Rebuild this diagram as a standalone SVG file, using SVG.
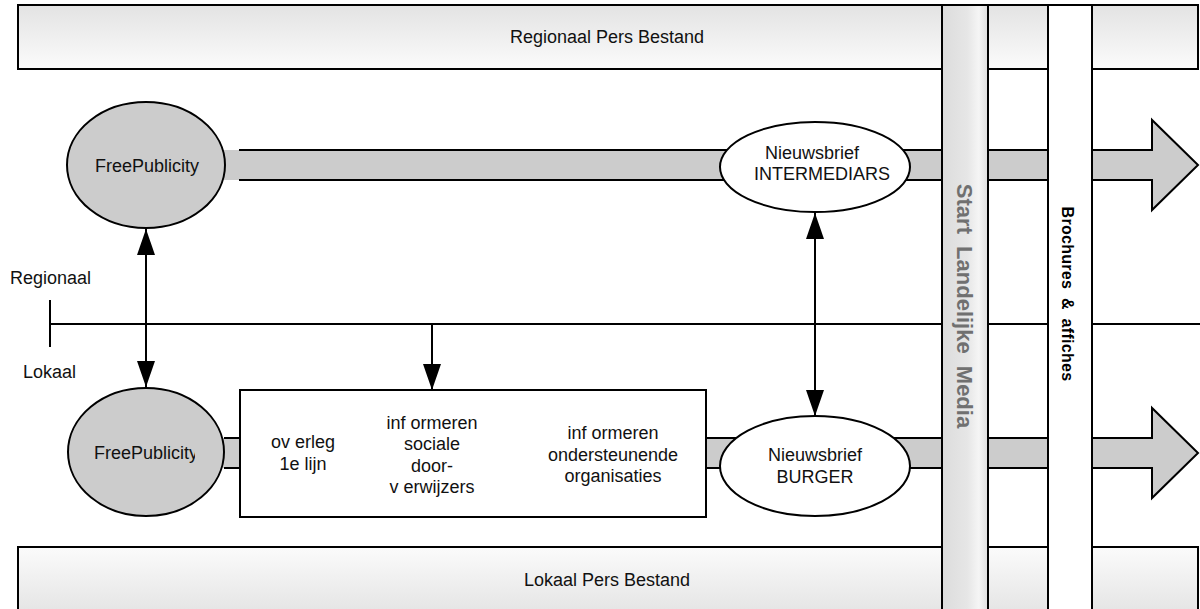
<svg xmlns="http://www.w3.org/2000/svg" width="1200" height="609" viewBox="0 0 1200 609">
  <style>
    .lbl { font-family: "Liberation Sans", Arial, sans-serif; font-size: 18px; fill: #111; }
    .mid { text-anchor: middle; }
    .edge { stroke: #000; stroke-width: 2; }
    .band { fill: #cccccc; }
    .blob { fill: #cccccc; stroke: #000; stroke-width: 2; }
    .oval { fill: #fff; stroke: #000; stroke-width: 2; }
    .wire { stroke: #000; stroke-width: 2; fill: none; }
  </style>
  <defs>
    <linearGradient id="gTop" x1="0" y1="0" x2="0" y2="1">
      <stop offset="0" stop-color="#e3e3e3"/>
      <stop offset="1" stop-color="#fbfbfb"/>
    </linearGradient>
    <linearGradient id="gBot" x1="0" y1="0" x2="0" y2="1">
      <stop offset="0" stop-color="#fbfbfb"/>
      <stop offset="1" stop-color="#e3e3e3"/>
    </linearGradient>
    <linearGradient id="gCol" x1="0" y1="0" x2="1" y2="0">
      <stop offset="0" stop-color="#dcdcdc"/>
      <stop offset="0.55" stop-color="#e6e6e6"/>
      <stop offset="0.8" stop-color="#f5f5f5"/>
      <stop offset="1" stop-color="#dedede"/>
    </linearGradient>
    <marker id="head" viewBox="0 0 26 18" refX="26" refY="9" markerWidth="26" markerHeight="18" markerUnits="userSpaceOnUse" orient="auto-start-reverse">
      <path d="M0,0 L26,9 L0,18 Z" fill="#000"/>
    </marker>
    <clipPath id="clipFp">
      <rect x="60" y="380" width="135" height="140"/>
    </clipPath>
  </defs>

  <!-- press files: regional (top) and local (bottom) -->
  <g id="regionaal-pers">
    <rect x="18" y="5" width="1180" height="64" fill="url(#gTop)" class="edge"/>
    <text class="lbl mid" x="607" y="43">Regionaal Pers Bestand</text>
  </g>
  <g id="lokaal-pers">
    <rect x="18" y="547" width="1180" height="70" fill="url(#gBot)" class="edge"/>
    <text class="lbl mid" x="607" y="586">Lokaal Pers Bestand</text>
  </g>

  <!-- flow bands with arrowheads -->
  <g id="bands">
    <rect x="200" y="150" width="42" height="30" class="band"/>
    <path d="M239,150 L1152,150 L1152,120 L1198,165 L1152,210 L1152,180 L239,180 Z" class="band"/>
    <path d="M239,150 L1152,150 L1152,120 L1198,165 L1152,210 L1152,180 L239,180" class="wire"/>
    <rect x="200" y="438" width="26" height="30" class="band"/>
    <path d="M224,438 L1152,438 L1152,408 L1198,453 L1152,498 L1152,468 L224,468 Z" class="band"/>
    <path d="M224,438 L1152,438 L1152,408 L1198,453 L1152,498 L1152,468 L224,468" class="wire"/>
  </g>

  <!-- regional / local divider and connectors -->
  <g id="connectors">
    <line x1="50" y1="324" x2="1200" y2="324" class="wire"/>
    <line x1="50" y1="300" x2="50" y2="347" class="wire"/>
    <line x1="146" y1="229" x2="146" y2="387" class="wire" marker-start="url(#head)" marker-end="url(#head)"/>
    <line x1="815" y1="213" x2="815" y2="416" class="wire" marker-start="url(#head)" marker-end="url(#head)"/>
    <line x1="432" y1="324" x2="432" y2="390" class="wire" marker-end="url(#head)"/>
  </g>

  <g id="label-regionaal">
    <text class="lbl" x="10" y="284">Regionaal</text>
  </g>
  <g id="label-lokaal">
    <text class="lbl" x="23" y="378">Lokaal</text>
  </g>

  <g id="freepublicity-top">
    <ellipse cx="146" cy="165" rx="79" ry="63" class="blob"/>
    <text class="lbl mid" x="147" y="172">FreePublicity</text>
  </g>
  <g id="freepublicity-bottom">
    <ellipse cx="146" cy="452" rx="78" ry="64" class="blob"/>
    <text class="lbl" x="94" y="459" clip-path="url(#clipFp)">FreePublicity</text>
  </g>

  <g id="nieuwsbrief-intermediars">
    <ellipse cx="815" cy="167" rx="95" ry="45" class="oval"/>
    <text class="lbl mid" x="812" y="159">Nieuwsbrief</text>
    <text class="lbl mid" x="822" y="180">INTERMEDIARS</text>
  </g>
  <g id="nieuwsbrief-burger">
    <ellipse cx="815" cy="466" rx="95" ry="50" class="oval"/>
    <text class="lbl mid" x="815" y="461">Nieuwsbrief</text>
    <text class="lbl mid" x="815" y="483">BURGER</text>
  </g>

  <g id="activiteiten">
    <rect x="240" y="390" width="466" height="127" fill="#fff" class="edge"/>
    <text class="lbl mid" x="303" y="448">ov erleg</text>
    <text class="lbl mid" x="303" y="470">1e lijn</text>
    <text class="lbl mid" x="432" y="429">inf ormeren</text>
    <text class="lbl mid" x="432" y="450">sociale</text>
    <text class="lbl mid" x="432" y="472">door-</text>
    <text class="lbl mid" x="432" y="493">v erwijzers</text>
    <text class="lbl mid" x="613" y="439">inf ormeren</text>
    <text class="lbl mid" x="613" y="461">ondersteunende</text>
    <text class="lbl mid" x="613" y="482">organisaties</text>
  </g>

  <!-- vertical media columns -->
  <g id="landelijke-media">
    <rect x="942" y="5" width="46" height="620" fill="url(#gCol)" class="edge"/>
    <text transform="translate(957,306) rotate(90)" text-anchor="middle" font-family="Liberation Sans, Arial, sans-serif" font-size="22" font-weight="bold" fill="#707070" word-spacing="6">Start Landelijke Media</text>
  </g>
  <g id="brochures">
    <rect x="1048" y="5" width="44" height="620" fill="#fff" class="edge"/>
    <text transform="translate(1062,294) rotate(90)" text-anchor="middle" font-family="Liberation Sans, Arial, sans-serif" font-size="16" font-weight="bold" fill="#000" letter-spacing="0.3" word-spacing="4">Brochures &amp; affiches</text>
  </g>
</svg>
